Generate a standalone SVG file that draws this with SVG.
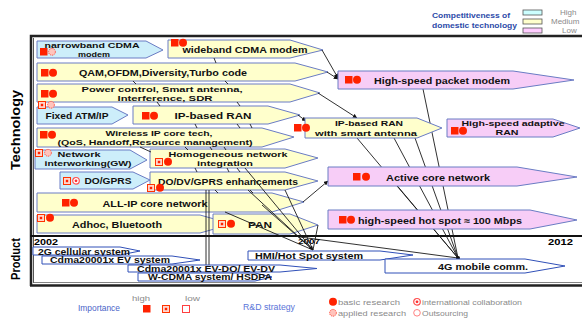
<svg xmlns="http://www.w3.org/2000/svg" xmlns:xlink="http://www.w3.org/1999/xlink" width="582" height="320" viewBox="0 0 582 320">
<style>
text{font-family:"Liberation Sans",Arial,sans-serif}
.t{font-weight:bold;font-size:9.5px;fill:#111;text-anchor:middle}
.t2{font-weight:bold;font-size:8px;fill:#111;text-anchor:middle}
.pt{font-weight:bold;font-size:8.5px;fill:#111;text-anchor:middle}
.y{fill:#ffffcc;stroke:#6a7cc4;stroke-width:1}
.b{fill:#cdeefa;stroke:#6a7cc4;stroke-width:1}
.p{fill:#f7cdf7;stroke:#6a7cc4;stroke-width:1}
.w{fill:#fff;stroke:#3050b8;stroke-width:1}
.c{stroke:#1a1a1a;stroke-width:0.9;fill:none}
.lg{font-size:8px;fill:#8a8a8a}
</style>
<defs>
<marker id="ah" viewBox="0 0 8 8" refX="7.5" refY="4" markerWidth="5" markerHeight="5" orient="auto"><path d="M0,0 L8,4 L0,8 z" fill="#111"/></marker>
<rect id="isq" width="7.5" height="7.5" fill="#ff2200"/>
<g id="isqh"><rect x="0.5" y="0.5" width="7" height="7" fill="#ffd6cc" stroke="#ff3300" stroke-width="1"/><rect x="2.8" y="2.8" width="2.4" height="2.4" fill="#ff2200"/></g>
<rect id="isqo" x="0.5" y="0.5" width="7" height="7" fill="#fff" stroke="#ff4040" stroke-width="1"/>
<circle id="ici" cx="4" cy="3.8" r="4" fill="#ff2200"/>
<circle id="icih" cx="4" cy="3.8" r="3.4" fill="#ffc4bc" stroke="#ff5040" stroke-width="1" stroke-dasharray="1.2 0.8"/>
<g id="icid"><circle cx="4" cy="3.8" r="3.3" fill="#fff" stroke="#ff5050" stroke-width="1.2"/><circle cx="4" cy="3.8" r="1.4" fill="#ff3030"/></g>
<circle id="icio" cx="4" cy="3.8" r="3.3" fill="#fff" stroke="#ff8080" stroke-width="1"/>
</defs>

<g id="frame">
<path d="M31,286 L31,36 L582,36" stroke="#222" stroke-width="2.5" fill="none"/>
<line x1="33.5" y1="38" x2="33.5" y2="283" stroke="#555" stroke-width="1"/>
<line x1="30" y1="236" x2="582" y2="236" stroke="#111" stroke-width="2"/>
<line x1="30" y1="285.5" x2="582" y2="285.5" stroke="#222" stroke-width="2.5"/>
<line x1="33" y1="282.5" x2="582" y2="282.5" stroke="#666" stroke-width="0.8"/>
<text x="17" y="130" transform="rotate(-90 17 130)" font-size="13" font-weight="bold" text-anchor="middle" dominant-baseline="middle" textLength="80" lengthAdjust="spacingAndGlyphs">Technology</text>
<text x="17" y="259" transform="rotate(-90 17 259)" font-size="13" font-weight="bold" text-anchor="middle" dominant-baseline="middle" textLength="42" lengthAdjust="spacingAndGlyphs">Product</text>
<text x="34" y="244.5" font-size="8.5" font-weight="bold" textLength="24" lengthAdjust="spacingAndGlyphs">2002</text>
<text x="548" y="245" font-size="8.5" font-weight="bold" textLength="25" lengthAdjust="spacingAndGlyphs">2012</text>
<text x="298" y="244" font-size="8" font-weight="bold" textLength="22" lengthAdjust="spacingAndGlyphs">2007</text>
</g>

<g id="legend-competitiveness">
<text x="432" y="18" font-size="7.5" font-weight="bold" fill="#2b4aa8" textLength="78" lengthAdjust="spacingAndGlyphs">Competitiveness of</text>
<text x="432" y="28" font-size="7.5" font-weight="bold" fill="#2b4aa8" textLength="85" lengthAdjust="spacingAndGlyphs">domestic technology</text>
<rect x="523" y="10" width="19" height="5" fill="#ccffff" stroke="#555" stroke-width="0.8"/>
<rect x="523" y="19" width="19" height="5" fill="#ffffcc" stroke="#555" stroke-width="0.8"/>
<rect x="523" y="28" width="19" height="5" fill="#ffccff" stroke="#555" stroke-width="0.8"/>
<text x="560" y="15" class="lg">High</text>
<text x="551" y="24" class="lg">Medium</text>
<text x="562" y="33" class="lg">Low</text>
</g>

<g id="n-narrowband"><polygon class="b" points="37,41 146,41 163,50 146,58 37,58"/><text class="t2" x="92" y="48" textLength="95" lengthAdjust="spacingAndGlyphs">narrowband CDMA</text><text class="t2" x="94" y="57" textLength="32" lengthAdjust="spacingAndGlyphs">modem</text><use href="#isq" x="40" y="48"/><use href="#icih" x="48" y="48"/></g>
<g id="n-wideband"><polygon class="y" points="168,40 290,40 323,50 290,58 168,58"/><text class="t" x="245" y="53" textLength="125" lengthAdjust="spacingAndGlyphs">wideband CDMA modem</text><use href="#isq" x="171" y="39"/><use href="#ici" x="179" y="39"/></g>
<g id="n-qam"><polygon class="y" points="37,63 295,63 328,72 295,81 37,81"/><text class="t" x="163" y="75.5" textLength="168" lengthAdjust="spacingAndGlyphs">QAM,OFDM,Diversity,Turbo code</text><use href="#isq" x="41" y="69"/><use href="#ici" x="49" y="69"/></g>
<g id="n-power"><polygon class="y" points="37,84 290,84 320,93 290,102 37,102"/><text class="t2" x="162" y="91.5" textLength="161" lengthAdjust="spacingAndGlyphs">Power control, Smart antenna,</text><text class="t2" x="165" y="100.5" textLength="95" lengthAdjust="spacingAndGlyphs">Interference, SDR</text><use href="#isq" x="41" y="90"/><use href="#ici" x="49" y="90"/></g>
<g id="n-fixedatm"><polygon class="b" points="37,107 112,107 128,115 112,124 37,124"/><text class="t" x="77" y="118.5" textLength="63" lengthAdjust="spacingAndGlyphs">Fixed ATM/IP</text><use href="#isqh" x="38" y="101"/><use href="#icih" x="47" y="101"/></g>
<g id="n-ipran"><polygon class="y" points="133,106 268,106 300,115 268,124 133,124"/><text class="t" x="213" y="118.5" textLength="77" lengthAdjust="spacingAndGlyphs">IP-based RAN</text><use href="#isq" x="142" y="112"/><use href="#ici" x="150" y="112"/></g>
<g id="n-wirelessip"><polygon class="y" points="37,128 262,128 294,137 262,147 37,147"/><text class="t2" x="159" y="135.5" textLength="107" lengthAdjust="spacingAndGlyphs">Wireless IP core tech,</text><text class="t2" x="155" y="144.5" textLength="195" lengthAdjust="spacingAndGlyphs">(QoS, Handoff,Resource management)</text><use href="#isq" x="40" y="131"/><use href="#ici" x="48" y="131"/></g>
<g id="n-network"><polygon class="b" points="35,150 130,150 147,160 130,169 35,169"/><text class="t2" x="79" y="156.5" textLength="43" lengthAdjust="spacingAndGlyphs">Network</text><text class="t2" x="88" y="166" textLength="87" lengthAdjust="spacingAndGlyphs">interworking(GW)</text><use href="#isqh" x="35" y="149"/><use href="#icih" x="44" y="149"/></g>
<g id="n-homogeneous"><polygon class="y" points="150,149 285,149 318,158 285,168 150,168"/><text class="t2" x="228" y="157" textLength="119" lengthAdjust="spacingAndGlyphs">Homogeneous network</text><text class="t2" x="225" y="166" textLength="56" lengthAdjust="spacingAndGlyphs">integration</text><use href="#isqh" x="155" y="158"/><use href="#ici" x="164" y="158"/></g>
<g id="n-dogprs"><polygon class="b" points="60,172 133,172 150,180 133,189 60,189"/><text class="t" x="108" y="183.5" textLength="47" lengthAdjust="spacingAndGlyphs">DO/GPRS</text><use href="#isqh" x="63" y="177"/><use href="#icid" x="72" y="177"/></g>
<g id="n-dodv"><polygon class="y" points="150,172 285,172 318,181 285,190 150,190"/><text class="t" x="228" y="184.5" textLength="140" lengthAdjust="spacingAndGlyphs">DO/DV/GPRS enhancements</text><use href="#isqh" x="147" y="184"/><use href="#ici" x="156" y="184"/></g>
<g id="n-allip"><polygon class="y" points="37,193 272,193 304,202 272,212 37,212"/><text class="t" x="155" y="206.5" textLength="105" lengthAdjust="spacingAndGlyphs">ALL-IP core network</text><use href="#isq" x="62" y="199"/><use href="#ici" x="70" y="199"/></g>
<g id="n-adhoc"><polygon class="y" points="37,215 200,215 232,224 200,233 37,233"/><text class="t" x="117" y="227.5" textLength="90" lengthAdjust="spacingAndGlyphs">Adhoc, Bluetooth</text><use href="#isqh" x="37" y="214"/><use href="#ici" x="46" y="214"/></g>
<g id="n-pan"><polygon class="y" points="213,214 290,214 318,225 290,234 213,234"/><text class="t" x="260" y="228" textLength="24" lengthAdjust="spacingAndGlyphs">PAN</text><use href="#isqh" x="218" y="220"/><use href="#ici" x="227" y="220"/></g>

<g id="connectors">
<path class="c" d="M322,50 L338,78" marker-end="url(#ah)"/>
<path class="c" d="M327,72 L338,79" marker-end="url(#ah)"/>
<path class="c" d="M318,93 L357,118" marker-end="url(#ah)"/>
<path class="c" d="M298,115 L306,121" marker-end="url(#ah)"/>
<path class="c" d="M303,202 L328,181" marker-end="url(#ah)"/>
<path class="c" d="M423,89 L458,258"/>
<path class="c" d="M357,138 L458,258"/>
<path class="c" d="M394,138 L458,258"/>
<path class="c" d="M415,138 L458,258"/>
<path class="c" d="M397,186 L458,258"/>
<path class="c" d="M300,237 L458,258"/>
<circle cx="458" cy="258" r="2" fill="#111"/>
<path class="c" d="M245,168 L313,250" marker-end="url(#ah)"/>
<path class="c" d="M248,190 L313,250"/>
<path class="c" d="M285,190 L313,250"/>
<path class="c" d="M225,212 L313,250"/>
<path class="c" d="M262,205 L313,250"/>
<path class="c" d="M318,225 L313,250"/>
<path class="c" d="M206,190 L206,265" stroke-width="1.2"/>
<path class="c" d="M209,190 L209,265" stroke-width="1.2"/>
<path class="c" d="M214,58 L216,63"/>
<path class="c" d="M133,81 L136,84"/>
<path class="c" d="M225,81 L228,84"/>
<path class="c" d="M157,102 L160,106"/>
<path class="c" d="M237,102 L240,106"/>
<path class="c" d="M195,124 L197,128"/>
<path class="c" d="M237,124 L240,128"/>
<path class="c" d="M250,124 L252,128"/>
<path class="c" d="M140,147 L151,152"/>
<path class="c" d="M185,147 L188,150"/>
<path class="c" d="M210,147 L212,150"/>
<path class="c" d="M224,147 L226,150"/>
<path class="c" d="M195,168 L197,172"/>
<path class="c" d="M227,168 L229,172"/>
<path class="c" d="M237,168 L240,172"/>
<path class="c" d="M215,190 L218,193"/>
<path class="c" d="M250,190 L253,193"/>
</g>

<g id="n-packetmodem"><polygon class="p" points="338,71 513,71 574,80 513,89 338,89"/><text class="t" x="442" y="83.5" textLength="136" lengthAdjust="spacingAndGlyphs">High-speed packet modem</text><use href="#isq" x="345" y="76"/><use href="#ici" x="353" y="76"/></g>
<g id="n-smartran"><polygon class="y" points="305,118 417,118 442,128 417,138 305,138"/><text class="t2" x="369" y="126" textLength="68" lengthAdjust="spacingAndGlyphs">IP-based RAN</text><text class="t2" x="366" y="135.5" textLength="102" lengthAdjust="spacingAndGlyphs">with smart antenna</text><use href="#isq" x="294" y="124"/><use href="#ici" x="302" y="124"/></g>
<g id="n-adaptiveran"><polygon class="p" points="447,119 553,119 580,128 553,137 447,137"/><text class="t2" x="513" y="126" textLength="103" lengthAdjust="spacingAndGlyphs">High-speed adaptive</text><text class="t2" x="507" y="135" textLength="23" lengthAdjust="spacingAndGlyphs">RAN</text><use href="#isq" x="451" y="127"/><use href="#ici" x="459" y="127"/></g>
<g id="n-activecore"><polygon class="p" points="328,167 517,167 577,177 517,186 328,186"/><text class="t" x="438" y="180.5" textLength="104" lengthAdjust="spacingAndGlyphs">Active core network</text><use href="#isq" x="353" y="173"/><use href="#ici" x="362" y="173"/></g>
<g id="n-hotspot"><polygon class="p" points="328,210 530,210 577,220 530,229 328,229"/><text class="t" x="440" y="223.5" textLength="164" lengthAdjust="spacingAndGlyphs">high-speed hot spot ≈ 100 Mbps</text><use href="#isq" x="339" y="216"/><use href="#ici" x="347" y="216"/></g>

<g id="p-2g"><polygon class="w" points="33,247 120,247 140,251 120,255 33,255"/><text class="pt" x="84" y="254.5" textLength="92" lengthAdjust="spacingAndGlyphs">2G cellular system</text></g>
<g id="p-cdmaev"><polygon class="w" points="42,256 172,256 200,260 172,264 42,264"/><text class="pt" x="110" y="263" textLength="120" lengthAdjust="spacingAndGlyphs">Cdma20001x EV system</text></g>
<g id="p-evdo"><polygon class="w" points="128,265 280,265 317,268.5 280,272 128,272"/><text class="pt" x="206" y="271.5" textLength="138" lengthAdjust="spacingAndGlyphs">Cdma20001x EV-DO/ EV-DV</text></g>
<g id="p-wcdma"><polygon class="w" points="138,273 255,273 272,277 255,281 138,281"/><text class="pt" x="210" y="280" textLength="124" lengthAdjust="spacingAndGlyphs">W-CDMA system/ HSDPA</text></g>
<g id="p-hmi"><polygon class="w" points="248,251 380,251 413,255 380,260 248,260"/><text class="pt" x="309" y="258.5" textLength="108" lengthAdjust="spacingAndGlyphs">HMI/Hot Spot system</text></g>
<g id="p-4g"><polygon class="w" points="385,259 525,259 565,266 525,273 385,273"/><text class="pt" x="483" y="269.5" textLength="90" lengthAdjust="spacingAndGlyphs">4G mobile comm.</text></g>

<g id="legend-bottom">
<text x="78" y="311" font-size="8.5" fill="#4a64c8" textLength="42" lengthAdjust="spacingAndGlyphs">Importance</text>
<text x="132" y="301" class="lg" textLength="18" lengthAdjust="spacingAndGlyphs">high</text>
<text x="185" y="301" class="lg" textLength="15" lengthAdjust="spacingAndGlyphs">low</text>
<use href="#isq" x="143" y="305"/>
<use href="#isqh" x="162" y="305"/>
<use href="#isqo" x="182" y="305"/>
<text x="243" y="310" font-size="8.5" fill="#5a74d8" textLength="52" lengthAdjust="spacingAndGlyphs">R&amp;D strategy</text>
<use href="#ici" x="329" y="298"/>
<text x="338" y="305" class="lg" textLength="62" lengthAdjust="spacingAndGlyphs">basic research</text>
<use href="#icih" x="329" y="309"/>
<text x="338" y="316" class="lg" textLength="68" lengthAdjust="spacingAndGlyphs">applied research</text>
<use href="#icid" x="413" y="298"/>
<text x="422" y="305" class="lg" textLength="100" lengthAdjust="spacingAndGlyphs">international collaboration</text>
<use href="#icio" x="413" y="309"/>
<text x="422" y="316" class="lg" textLength="46" lengthAdjust="spacingAndGlyphs">Outsourcing</text>
</g>
</svg>
